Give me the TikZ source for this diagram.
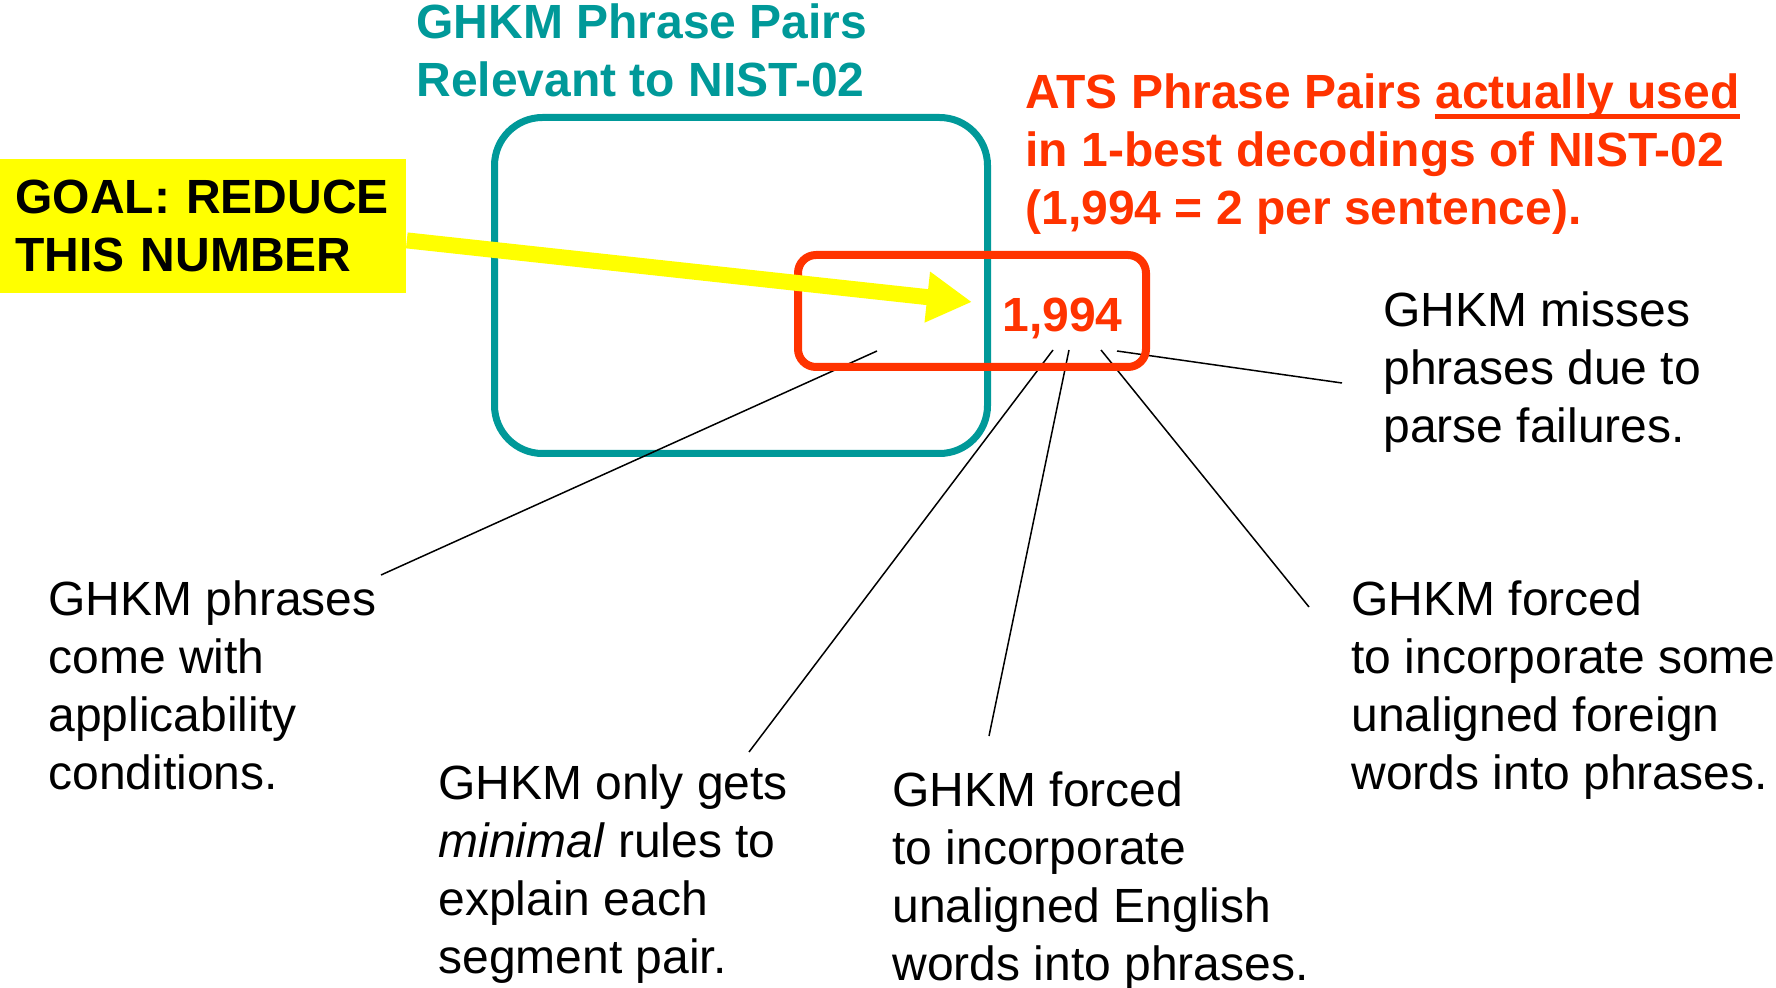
\documentclass[tikz,border=0pt]{standalone}
\usepackage{fontspec}
\setmainfont{Liberation Sans}
\usetikzlibrary{arrows.meta,calc}
\definecolor{ghkmteal}{HTML}{009999}
\definecolor{atsred}{HTML}{FF3300}
\definecolor{goalyellow}{HTML}{FFFF00}
\newcommand{\slidefont}{\fontsize{24pt}{29pt}\selectfont}
% underline a phrase with a rule 2.5pt below the baseline, 2.5pt thick
\newsavebox{\ulphrasebox}
\newcommand{\ulphrase}[1]{\sbox{\ulphrasebox}{#1}\rlap{\rule[-5pt]{\wd\ulphrasebox}{2.5pt}}\usebox{\ulphrasebox}}
\begin{document}
\begin{tikzpicture}[x=0.5pt,y=-0.5pt,
  every node/.style={inner sep=0pt, align=left, font=\slidefont},
  note/.style={anchor=base west},
  headline/.style={anchor=base west, font=\slidefont\bfseries},
  pointer/.style={line width=0.75pt, black},
  setbox/.style={line width=3.5pt, rounded corners=24pt, draw=ghkmteal},
  usedbox/.style={line width=4pt, rounded corners=9pt, draw=atsred},
  goalbox/.style={fill=goalyellow, anchor=north west, inner xsep=7.5pt,
    text width=188pt, text height=27pt, text depth=40pt, font=\slidefont\bfseries},
  goalarrow/.style={goalyellow, line width=8pt, -{Triangle[length=22.5pt,width=24pt]}}
]
\useasboundingbox (0,0) rectangle (1776,988);

% headings (multi-line nodes sit on the baseline of their last line)
\node[headline, text=ghkmteal] (ghkmtitle) at (416,97)
  {GHKM Phrase Pairs\\Relevant to NIST-02};
\node[headline, text=atsred] (atstitle) at (1025,225)
  {ATS Phrase Pairs \ulphrase{actually used}\\
   in 1-best decodings of NIST-02\\(1,994 = 2 per sentence).};

% the GHKM set
\node[setbox, minimum width=246.5pt, minimum height=168pt] (ghkm) at (741,285.5) {};

% explanations
\node[note] (parsefail) at (1383,443)
  {GHKM misses\\phrases due to\\parse failures.};
\node[note] (applic) at (48,789)
  {GHKM phrases\\come with\\applicability\\conditions.};
\node[note] (minimal) at (438,973)
  {GHKM only gets\\\textit{minimal} rules to\\explain each\\segment pair.};
\node[note] (english) at (892,980)
  {GHKM forced\\to incorporate\\unaligned English\\words into phrases.};
\node[note] (foreign) at (1351,789)
  {GHKM forced\\to incorporate some\\unaligned foreign\\words into phrases.};

% pointer ends
\coordinate (p1) at (877,351);  \coordinate (q1) at (381,575);
\coordinate (p2) at (1053,350); \coordinate (q2) at (749,752);
\coordinate (p3) at (1069,350); \coordinate (q3) at (989,736);
\coordinate (p4) at (1101,350); \coordinate (q4) at (1309,607);
\coordinate (p5) at (1117,351); \coordinate (q5) at (1342,383);
\draw[pointer] (p1) -- (q1);
\draw[pointer] (p2) -- (q2);
\draw[pointer] (p3) -- (q3);
\draw[pointer] (p4) -- (q4);
\draw[pointer] (p5) -- (q5);

% the ATS pairs actually used
\node[usedbox, minimum width=174pt, minimum height=56pt] (used) at (972,311) {};
\node[anchor=base west, text=atsred, font=\slidefont\bfseries] (count) at (1002,332) {1,994};

% goal callout
\node[goalbox] (goal) at (0,159) {GOAL: REDUCE\\THIS NUMBER};
\coordinate (goaltip) at (972,302);
\draw[goalarrow] ($(goal.east)+(0,14)$) -- (goaltip);
\end{tikzpicture}
\end{document}
